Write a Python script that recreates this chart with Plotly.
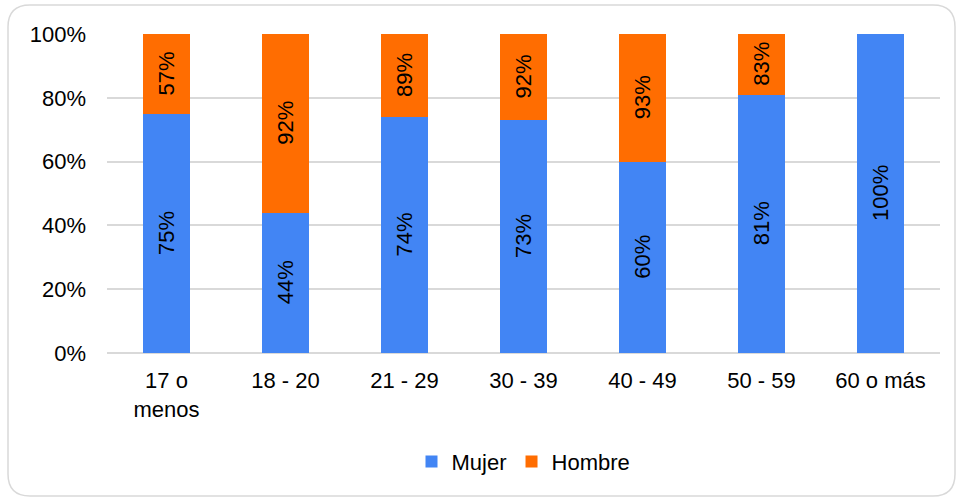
import plotly.graph_objects as go

categories = ["17 o<br>menos", "18 - 20", "21 - 29", "30 - 39", "40 - 49", "50 - 59", "60 o más"]
mujer = [75, 44, 74, 73, 60, 81, 100]
hombre = [25, 56, 26, 27, 40, 19, 0]
mujer_labels = ["75%", "44%", "74%", "73%", "60%", "81%", "100%"]
hombre_labels = ["57%", "92%", "89%", "92%", "93%", "83%", ""]
yticks = [0, 20, 40, 60, 80, 100]
ytick_text = ["0%", "20%", "40%", "60%", "80%", "100%"]

W, H = 959, 498
ML, MR, MT, MB = 107, 19, 34, 145
PW, PH = W - ML - MR, H - MT - MB

font = "Liberation Sans, Arial, sans-serif"
FS = 22

fig = go.Figure()
fig.add_trace(go.Bar(x=categories, y=mujer, name="Mujer", marker_color="#4285f4",
                     marker_line_width=0))
fig.add_trace(go.Bar(x=categories, y=hombre, name="Hombre", marker_color="#ff6d01",
                     marker_line_width=0))

for c, m, h, ml, hl in zip(categories, mujer, hombre, mujer_labels, hombre_labels):
    if ml:
        fig.add_annotation(x=c, y=m / 2, text=ml, textangle=-90, showarrow=False,
                           font=dict(family=font, size=FS, color="#000000"))
    if hl and h > 0:
        fig.add_annotation(x=c, y=m + h / 2, text=hl, textangle=-90, showarrow=False,
                           font=dict(family=font, size=FS, color="#000000"))

def P(x, y):
    a, b = (x - ML) / PW, (H - MB - y) / PH
    return f"{a:.5f},{b:.5f}"

x0, y0, x1, y1, r = 8, 5, 955, 496, 22
path = (f"M {P(x0+r, y0)} L {P(x1-r, y0)} Q {P(x1, y0)} {P(x1, y0+r)} "
        f"L {P(x1, y1-r)} Q {P(x1, y1)} {P(x1-r, y1)} "
        f"L {P(x0+r, y1)} Q {P(x0, y1)} {P(x0, y1-r)} "
        f"L {P(x0, y0+r)} Q {P(x0, y0)} {P(x0+r, y0)} Z")
fig.add_shape(type="path", path=path, xref="paper", yref="paper",
              line=dict(color="#d9d9d9", width=1.5), layer="below")

fig.update_layout(
    barmode="stack", bargap=0.6,
    width=W, height=H,
    margin=dict(l=ML, r=MR, t=MT, b=MB),
    plot_bgcolor="white", paper_bgcolor="white",
    font=dict(family=font, size=FS, color="#000000"),
    showlegend=True,
    legend=dict(orientation="h", x=0.5, xanchor="center", y=-0.275, yanchor="top",
                font=dict(size=FS), itemwidth=30, traceorder="normal",
                tracegroupgap=0),
    xaxis=dict(showgrid=False, showline=False, ticks="", tickfont=dict(size=FS),
               ticklabelstandoff=12),
    yaxis=dict(range=[0, 100], tickvals=yticks, ticktext=ytick_text,
               showgrid=True, gridcolor="#d9d9d9", gridwidth=1.5,
               zeroline=True, zerolinecolor="#d9d9d9", zerolinewidth=1.5,
               ticks="", ticklabelstandoff=20, tickfont=dict(size=FS)),
)

fig.write_html("out.html")
